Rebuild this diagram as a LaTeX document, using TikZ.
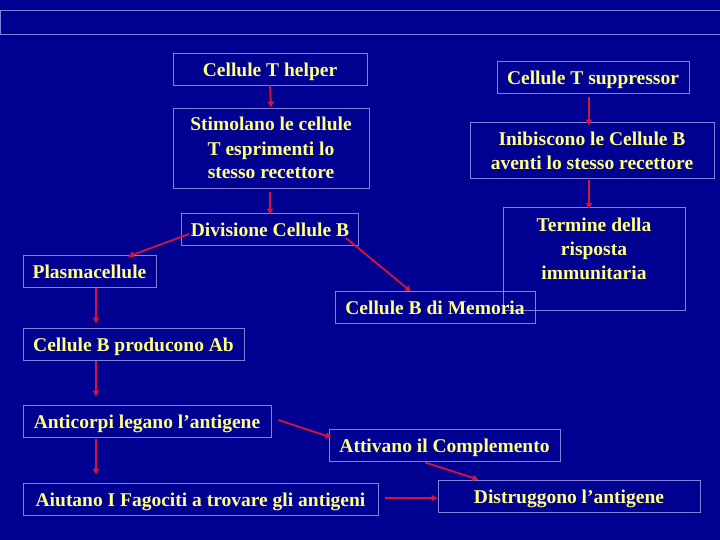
\documentclass[tikz,border=0pt]{standalone}
\usepackage{fontspec}
\setmainfont{Liberation Serif}
\usetikzlibrary{arrows.meta,calc}
\definecolor{bg}{RGB}{0,0,145}
\definecolor{boxline}{RGB}{130,130,220}
\definecolor{txt}{RGB}{255,255,130}
\definecolor{arr}{RGB}{215,20,55}
\tikzset{
  box/.style={draw=boxline, line width=0.9pt, inner sep=0pt, text=txt,
    font=\fontsize{19.5}{24}\selectfont\bfseries, align=center, minimum height=32},
  one/.style={text height=16.5pt, text depth=1.5pt},
  conn/.style={draw=arr, line width=1.8pt, -{Triangle[length=6pt,width=6pt]}}
}
\begin{document}
\begin{tikzpicture}[x=1pt,y=-1pt]
\fill[bg] (0,0) rectangle (720,540);
\useasboundingbox (0,0) rectangle (720,540);
\draw[boxline, line width=0.9pt] (0.5,10) rectangle (730,34);

\node[box, one, minimum width=194] (helper) at (270,69) {Cellule T helper};
\node[box, minimum width=196, minimum height=80, text height=67pt, text depth=5pt] (stim) at (271,148) {Stimolano le cellule\\T esprimenti lo\\stesso recettore};
\node[box, one, minimum width=177] (div) at (270,229) {Divisione Cellule B};
\node[box, one, minimum width=192] (supp) at (593,77) {Cellule T suppressor};
\node[box, minimum width=244, minimum height=56, text height=44pt, text depth=5pt] (inib) at (592,150) {Inibiscono le Cellule B\\aventi lo stesso recettore};
\node[box, minimum width=182, minimum height=0, anchor=north, text height=72pt, text depth=31pt] (term) at (594,207) {Termine della\\risposta\\immunitaria};
\node[box, one, minimum width=133] (plasma) at (89.5,271) {Plasmacellule};
\node[box, one, minimum width=200] (mem) at (435,307) {Cellule B di Memoria};
\node[box, one, minimum width=221] (prod) at (133.5,344) {Cellule B producono Ab};
\node[box, one, minimum width=248] (anti) at (147,421) {Anticorpi legano l’antigene};
\node[box, one, minimum width=231] (att) at (444.5,445) {Attivano il Complemento};
\node[box, one, minimum width=355] (aiut) at (200.5,499) {Aiutano I Fagociti a trovare gli antigeni};
\node[box, one, minimum width=262] (dist) at (569,496) {Distruggono l’antigene};

\draw[conn] (helper.south) -- (stim.north);
\draw[conn] ($(stim.south)+(-1,4)$) -- ($(div.north)+(0,2)$);
\draw[conn] ($(supp.south)+(-4,4)$) -- ($(inib.north)+(-3,4)$);
\draw[conn] ($(inib.south)+(-3,2)$) -- ($(term.north)+(-5,2)$);
\draw[conn] ($(div.west)+(8,5)$) -- ($(plasma.north)+(38.5,2)$);
\draw[conn] ($(div.east)+(-13,9)$) -- ($(mem.north)+(-24,1)$);
\draw[conn] ($(plasma.south)+(6.5,1)$) -- ($(prod.north)+(-37.5,-4)$);
\draw[conn] ($(prod.south)+(-37.5,1)$) -- ($(anti.north)+(-51,-8)$);
\draw[conn] ($(anti.south)+(-51,2)$) -- ($(aiut.north)+(-104.5,-8)$);
\draw[conn] ($(anti.east)+(7,-1)$) -- ($(att.north west)+(3,9)$);
\draw[conn] ($(att.south)+(-19.5,1)$) -- ($(dist.north west)+(41,0)$);
\draw[conn] ($(aiut.east)+(7,-1)$) -- ($(dist.west)+(0,2)$);
\end{tikzpicture}
\end{document}
